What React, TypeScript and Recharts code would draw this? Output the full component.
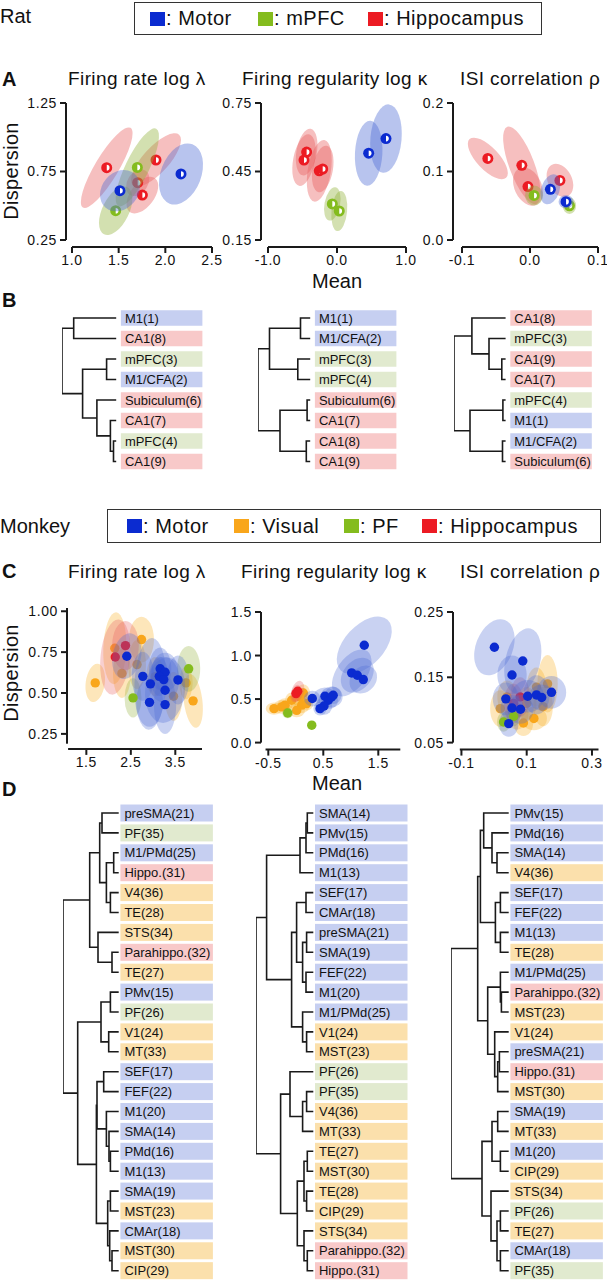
import React from "react"
import { ScatterChart, Scatter, XAxis, YAxis } from "recharts"

type Group = "motor" | "mpfc" | "pf" | "hippo" | "visual"
// [mean, dispersion, half-width (x units), half-height (y units), correlation]
type Ell = [number, number, number, number, number]

const FONT = "'Liberation Sans', Arial, Helvetica, sans-serif"
const INK = "#1a1a1a"

const DOT: Record<Group, string> = {
    motor: "#0b2bd0",
    mpfc: "#84bc1e",
    pf: "#84bc1e",
    hippo: "#ec1b23",
    visual: "#f9a61b",
}
const HALO: Record<Group, string> = {
    motor: "#4d6bd4",
    mpfc: "#91b139",
    pf: "#91b139",
    hippo: "#e86060",
    visual: "#f7ad1c",
}
const BOX: Record<Group, string> = {
    motor: "#c6cff1",
    mpfc: "#e1eacf",
    pf: "#e1eacf",
    hippo: "#f8c9c9",
    visual: "#fbe0ac",
}
const AREA_GROUP: Record<string, Group> = {
    "M1": "motor", "M1/CFA": "motor", "mPFC": "mpfc", "Subiculum": "hippo", "CA1": "hippo",
    "SMA": "motor", "PMv": "motor", "PMd": "motor", "SEF": "motor", "CMAr": "motor",
    "preSMA": "motor", "FEF": "motor", "M1/PMd": "motor",
    "MST": "visual", "V1": "visual", "TE": "visual", "CIP": "visual", "MT": "visual",
    "STS": "visual", "V4": "visual", "PF": "pf", "Hippo.": "hippo", "Parahippo.": "hippo",
}
const groupOf = (label: string) => AREA_GROUP[label.replace(/\(.*$/, "")]

// ---------- Rat (A) ----------
const ratRateMotor: Ell[] = [[1.514, 0.61, 0.214, 0.151, 0.2], [2.168, 0.732, 0.236, 0.223, 0.3]]
const ratRateMpfc: Ell[] = [[1.468, 0.464, 0.179, 0.177, 0.5], [1.70, 0.78, 0.232, 0.285, 0.8]]
const ratRateHippo: Ell[] = [
    [1.372, 0.778, 0.277, 0.294, 0.85], [1.90, 0.834, 0.268, 0.195, 0.75],
    [1.704, 0.668, 0.125, 0.097, 0.3], [1.754, 0.578, 0.17, 0.134, 0.5],
]
const ratRegMotor: Ell[] = [[0.459, 0.53, 0.2, 0.142, 0.1], [0.71, 0.594, 0.229, 0.15, 0.15]]
const ratRegMpfc: Ell[] = [[-0.068, 0.308, 0.12, 0.073, 0.3], [0.033, 0.277, 0.116, 0.088, 0.2]]
const ratRegHippo: Ell[] = [
    [-0.44, 0.535, 0.157, 0.102, 0.3], [-0.478, 0.50, 0.17, 0.113, 0.35],
    [-0.257, 0.453, 0.181, 0.135, 0.35], [-0.207, 0.461, 0.157, 0.102, 0.3],
]
const ratIsiMotor: Ell[] = [[0.030, 0.074, 0.0147, 0.0219, 0.3], [0.053, 0.056, 0.011, 0.0098, 0]]
const ratIsiMpfc: Ell[] = [[0.006, 0.065, 0.0132, 0.0146, 0], [0.058, 0.050, 0.0098, 0.012, 0]]
const ratIsiHippo: Ell[] = [
    [-0.062, 0.119, 0.0294, 0.0304, -0.7], [-0.012, 0.109, 0.0275, 0.0567, -0.7],
    [-0.003, 0.078, 0.022, 0.028, -0.3], [0.044, 0.087, 0.0196, 0.0243, -0.3],
]

// ---------- Monkey (C) ----------
const monkeyRateMotor: Ell[] = [
    [2.41, 0.725, 0.33, 0.14, 0.2], [2.77, 0.602, 0.25, 0.15, 0], [2.94, 0.556, 0.36, 0.28, 0.1],
    [3.16, 0.648, 0.25, 0.13, 0], [3.27, 0.627, 0.3, 0.12, 0], [3.14, 0.602, 0.2, 0.12, 0],
    [3.24, 0.582, 0.35, 0.14, 0], [3.27, 0.517, 0.45, 0.2, 0.1], [3.56, 0.58, 0.25, 0.15, 0],
    [2.92, 0.443, 0.3, 0.15, 0], [3.27, 0.429, 0.25, 0.18, 0],
]
const monkeyRateVisual: Ell[] = [
    [1.70, 0.562, 0.22, 0.117, 0.2], [2.14, 0.774, 0.26, 0.22, 0.1], [2.74, 0.827, 0.28, 0.14, 0],
    [2.64, 0.674, 0.2, 0.15, 0], [3.90, 0.452, 0.22, 0.165, -0.3], [3.74, 0.562, 0.15, 0.10, 0],
    [3.46, 0.48, 0.2, 0.15, 0], [3.05, 0.60, 0.2, 0.12, 0], [2.30, 0.62, 0.2, 0.15, 0],
]
const monkeyRatePf: Ell[] = [[2.55, 0.47, 0.19, 0.12, 0], [3.80, 0.648, 0.26, 0.14, 0]]
const monkeyRateHippo: Ell[] = [[2.38, 0.79, 0.3, 0.15, 0], [2.15, 0.72, 0.34, 0.23, 0.2]]

const monkeyRegMotor: Ell[] = [
    [1.245, 1.118, 0.5, 0.33, 0.5], [1.016, 0.80, 0.36, 0.27, 0.5], [1.118, 0.774, 0.3, 0.2, 0.3],
    [1.227, 0.724, 0.25, 0.16, 0.2], [0.30, 0.506, 0.15, 0.09, 0], [0.53, 0.532, 0.2, 0.1, 0],
    [0.59, 0.486, 0.18, 0.1, 0], [0.65, 0.524, 0.2, 0.12, 0], [0.513, 0.42, 0.15, 0.1, 0],
    [0.44, 0.39, 0.12, 0.08, 0], [0.68, 0.544, 0.15, 0.1, 0],
]
const monkeyRegVisual: Ell[] = [
    [-0.396, 0.39, 0.15, 0.07, 0], [-0.257, 0.41, 0.15, 0.08, 0], [0.076, 0.524, 0.14, 0.1, 0.3],
    [0.107, 0.43, 0.15, 0.09, 0], [0.016, 0.37, 0.15, 0.08, 0], [-0.196, 0.43, 0.14, 0.08, 0],
    [-0.075, 0.486, 0.12, 0.09, 0], [0.198, 0.448, 0.12, 0.08, 0], [0.137, 0.57, 0.12, 0.1, 0],
]
const monkeyRegPf: Ell[] = [[-0.147, 0.34, 0.1, 0.06, 0], [0.29, 0.20, 0.06, 0.04, 0]]
const monkeyRegHippo: Ell[] = [[0.004, 0.563, 0.1, 0.1, 0.3], [0.035, 0.59, 0.12, 0.12, 0.3]]

const monkeyIsiMotor: Ell[] = [
    [0.001, 0.196, 0.062, 0.043, 0.3], [0.088, 0.175, 0.057, 0.05, 0.3], [0.055, 0.1535, 0.045, 0.03, 0],
    [0.036, 0.117, 0.04, 0.025, 0], [0.103, 0.121, 0.05, 0.025, 0], [0.130, 0.123, 0.04, 0.03, 0],
    [0.146, 0.119, 0.04, 0.02, 0], [0.176, 0.127, 0.045, 0.025, 0], [0.055, 0.103, 0.035, 0.02, 0],
    [0.081, 0.101, 0.04, 0.022, 0], [0.045, 0.079, 0.03, 0.02, 0],
]
const monkeyIsiVisual: Ell[] = [
    [0.164, 0.14, 0.031, 0.044, 0], [0.019, 0.102, 0.031, 0.028, 0], [0.122, 0.087, 0.04, 0.018, 0],
    [0.15, 0.105, 0.03, 0.03, 0], [0.07, 0.095, 0.035, 0.025, 0], [0.10, 0.11, 0.03, 0.025, 0],
    [0.04, 0.12, 0.03, 0.025, 0], [0.13, 0.135, 0.03, 0.03, 0], [0.09, 0.08, 0.03, 0.02, 0],
]
const monkeyIsiPf: Ell[] = [[0.029, 0.0815, 0.02, 0.015, 0], [0.06, 0.09, 0.02, 0.015, 0]]
const monkeyIsiHippo: Ell[] = [[0.06, 0.11, 0.03, 0.03, 0], [0.08, 0.12, 0.03, 0.03, 0]]

// ---------- Dendrograms: leaf order + merges [childA, childB, height] ----------
const ratRateLeaves = ["M1(1)", "CA1(8)", "mPFC(3)", "M1/CFA(2)", "Subiculum(6)", "CA1(7)", "mPFC(4)", "CA1(9)"]
const ratRateTree: [number, number, number][] = [
    [6, 7, 2.7], [5, 8, 5.8], [4, 9, 19.3], [2, 3, 9.6], [11, 10, 33.6], [0, 1, 42.5], [13, 12, 54.2],
]
const ratRegLeaves = ["M1(1)", "M1/CFA(2)", "mPFC(3)", "mPFC(4)", "Subiculum(6)", "CA1(7)", "CA1(8)", "CA1(9)"]
const ratRegTree: [number, number, number][] = [
    [0, 1, 9.7], [2, 3, 12.4], [8, 9, 40.7], [4, 5, 3.1], [6, 7, 3.9], [11, 12, 30.2], [10, 13, 52.2],
]
const ratIsiLeaves = ["CA1(8)", "mPFC(3)", "CA1(9)", "CA1(7)", "mPFC(4)", "M1(1)", "M1/CFA(2)", "Subiculum(6)"]
const ratIsiTree: [number, number, number][] = [
    [2, 3, 3.8], [1, 8, 16.6], [0, 9, 33.7], [4, 5, 2.7], [6, 7, 3.1], [11, 12, 35.6], [10, 13, 51.6],
]

const monkeyRateLeaves = [
    "preSMA(21)", "PF(35)", "M1/PMd(25)", "Hippo.(31)", "V4(36)", "TE(28)", "STS(34)", "Parahippo.(32)",
    "TE(27)", "PMv(15)", "PF(26)", "V1(24)", "MT(33)", "SEF(17)", "FEF(22)", "M1(20)", "SMA(14)",
    "PMd(16)", "M1(13)", "SMA(19)", "MST(23)", "CMAr(18)", "MST(30)", "CIP(29)",
]
const monkeyRateTree: [number, number, number][] = [
    [0, 1, 16.7], [2, 3, 5], [4, 5, 8.3], [25, 26, 12.3], [24, 27, 19], [7, 8, 6.7], [6, 29, 20.7],
    [28, 30, 29], [9, 10, 8.3], [11, 12, 10], [32, 33, 17.7], [13, 14, 15], [17, 18, 8.3], [16, 36, 9.7],
    [15, 37, 12.3], [35, 38, 21.7], [19, 20, 8.3], [22, 23, 6.7], [21, 41, 9], [40, 42, 11],
    [39, 43, 22.3], [34, 44, 41], [31, 45, 55.7],
]
const monkeyRegLeaves = [
    "SMA(14)", "PMv(15)", "PMd(16)", "M1(13)", "SEF(17)", "CMAr(18)", "preSMA(21)", "SMA(19)",
    "FEF(22)", "M1(20)", "M1/PMd(25)", "V1(24)", "MST(23)", "PF(26)", "PF(35)", "V4(36)", "MT(33)",
    "TE(27)", "MST(30)", "TE(28)", "CIP(29)", "STS(34)", "Parahippo.(32)", "Hippo.(31)",
]
const monkeyRegTree: [number, number, number][] = [
    [0, 1, 6], [24, 2, 7.3], [25, 3, 13.3], [4, 5, 7.3], [6, 7, 6.7], [8, 9, 7.3], [28, 29, 10.7],
    [27, 30, 16.7], [11, 12, 6.7], [10, 32, 10.7], [31, 33, 21.7], [26, 34, 46.7], [14, 15, 6.7],
    [36, 16, 10.7], [13, 37, 23.3], [17, 18, 6], [19, 20, 6.7], [39, 40, 9.3], [22, 23, 6],
    [21, 42, 9.3], [41, 43, 16], [38, 44, 32.7], [35, 45, 57.3],
]
const monkeyIsiLeaves = [
    "PMv(15)", "PMd(16)", "SMA(14)", "V4(36)", "SEF(17)", "FEF(22)", "M1(13)", "TE(28)",
    "M1/PMd(25)", "Parahippo.(32)", "MST(23)", "V1(24)", "preSMA(21)", "Hippo.(31)", "MST(30)",
    "SMA(19)", "MT(33)", "M1(20)", "CIP(29)", "STS(34)", "PF(26)", "TE(27)", "CMAr(18)", "PF(35)",
]
const monkeyIsiTree: [number, number, number][] = [
    [2, 3, 11.7], [1, 24, 16.7], [0, 25, 25], [4, 5, 8.3], [6, 7, 8.3], [27, 28, 13.3], [26, 29, 28.3],
    [9, 10, 7.3], [8, 31, 8.3], [12, 13, 9.3], [33, 14, 11], [11, 34, 14], [32, 35, 21], [30, 36, 31],
    [15, 16, 11], [17, 18, 8.3], [38, 39, 16.7], [20, 21, 8.3], [22, 23, 8.3], [41, 42, 11.7],
    [19, 43, 17.7], [40, 44, 26.7], [37, 45, 57.7],
]

// ---------- axis ticks ----------
const ratRateX = [1.0, 1.5, 2.0, 2.5]
const ratRateY = [0.25, 0.75, 1.25]
const ratRegX = [-1, 0, 1]
const ratRegY = [0.15, 0.45, 0.75]
const ratIsiX = [-0.1, 0, 0.1]
const ratIsiY = [0, 0.1, 0.2]
const monkeyRateX = [1.5, 2.5, 3.5]
const monkeyRateY = [0.25, 0.5, 0.75, 1.0]
const monkeyRegX = [-0.5, 0.5, 1.5]
const monkeyRegY = [0, 0.5, 1.0, 1.5]
const monkeyIsiX = [-0.1, 0.1, 0.3]
const monkeyIsiY = [0.05, 0.15, 0.25]

type AxisSpec = { domain: [number, number]; px: [number, number]; ticks: number[]; digits: number }
type Layer = { group: Group; data: Ell[]; kind: "halo" | "dot" }

// dispersion ellipse from half-extents + correlation, turned into pixel space
const ellipseShape = (fill: string, alpha: number, kx: number, ky: number) => (p: any) => {
    const e: Ell = p.payload.e
    const sx = e[2] * kx
    const sy = e[3] * ky
    const a = sx * sx
    const d = sy * sy
    const c = -e[4] * sx * sy
    const mid = (a + d) / 2
    const diff = Math.sqrt(((a - d) / 2) ** 2 + c * c)
    const rx = Math.sqrt(mid + diff)
    const ry = Math.sqrt(Math.max(mid - diff, 0))
    const ang = (0.5 * Math.atan2(2 * c, a - d) * 180) / Math.PI
    return (
        <ellipse cx={p.cx} cy={p.cy} rx={rx} ry={ry} fill={fill} fillOpacity={alpha}
            transform={`rotate(${ang} ${p.cx} ${p.cy})`} />
    )
}

const halfDot = (color: string) => (p: any) => (
    <g>
        <circle cx={p.cx} cy={p.cy} r={5.5} fill={color} />
        <path d={`M${p.cx},${p.cy - 2.8} A2.8,2.8 0 0 1 ${p.cx},${p.cy + 2.8} Z`} fill="#fff" />
    </g>
)
const solidDot = (color: string) => (p: any) => <circle cx={p.cx} cy={p.cy} r={4.7} fill={color} />

function ScatterPanel(props: {
    x: AxisSpec; y: AxisSpec; yAxisX: number; xAxisY: number; layers: Layer[]; half: boolean; alpha: number
}) {
    const { x, y, yAxisX, xAxisY, layers, half, alpha } = props
    const YW = 56, XH = 30, MT = 14, MR = 14
    const left = yAxisX - YW
    const top = y.px[1] - MT
    const width = x.px[1] + MR - left
    const height = xAxisY + XH - top
    const padLeft = x.px[0] - yAxisX
    const padBottom = xAxisY - y.px[0]
    const kx = (x.px[1] - x.px[0]) / (x.domain[1] - x.domain[0])
    const ky = (y.px[0] - y.px[1]) / (y.domain[1] - y.domain[0])
    const xLen = x.px[1] - yAxisX
    const yLen = xAxisY - y.px[1]
    const tick = { fill: "#111", fontSize: 14, fontFamily: FONT, letterSpacing: 0.6 }
    return (
        <div style={{ position: "absolute", left, top }}>
            <ScatterChart width={width} height={height} margin={{ top: MT, right: MR, left: 0, bottom: 0 }}>
                <XAxis type="number" dataKey="x" domain={x.domain} ticks={x.ticks} interval={0}
                    padding={{ left: padLeft, right: 0 }} height={XH} tickSize={6} tickMargin={2}
                    tickFormatter={(v: number) => v.toFixed(x.digits)} tick={tick}
                    axisLine={{ stroke: INK, strokeWidth: 2, strokeDasharray: `0 ${padLeft} ${xLen} 0` }}
                    tickLine={{ stroke: INK, strokeWidth: 2 }} />
                <YAxis type="number" dataKey="y" domain={y.domain} ticks={y.ticks} interval={0}
                    padding={{ top: 0, bottom: padBottom }} width={YW} tickSize={6} tickMargin={3}
                    tickFormatter={(v: number) => v.toFixed(y.digits)} tick={tick}
                    axisLine={{ stroke: INK, strokeWidth: 2, strokeDasharray: `${yLen - padBottom} ${padBottom}` }}
                    tickLine={{ stroke: INK, strokeWidth: 2 }} />
                {layers.map((l, i) => (
                    <Scatter key={i} data={l.data.map((e) => ({ x: e[0], y: e[1], e }))} isAnimationActive={false}
                        shape={l.kind === "halo" ? ellipseShape(HALO[l.group], alpha, kx, ky)
                            : half ? halfDot(DOT[l.group]) : solidDot(DOT[l.group])} />
                ))}
            </ScatterChart>
        </div>
    )
}

const noShape = () => <g />

function Dendrogram(props: {
    leaves: string[]; tree: [number, number, number][]; leafX: number; topY: number; step: number;
    boxW: number; boxH: number; gap: number
}) {
    const { leaves, tree, leafX, topY, step, boxW, boxH, gap } = props
    const n = leaves.length
    const nodes = leaves.map((_, i) => ({ h: 0, y: i }))
    tree.forEach(([a, b, h]) => nodes.push({ h, y: (nodes[a].y + nodes[b].y) / 2 }))
    const rootH = tree[tree.length - 1][2]
    const M = 12
    const right = gap + boxW + 6
    const leafShape = (p: any) => {
        const g = groupOf(p.payload.label)
        return (
            <g>
                <rect x={p.cx + gap} y={p.cy - boxH / 2} width={boxW} height={boxH} fill={BOX[g]} />
                <text x={p.cx + gap + 4} y={p.cy} dy="0.36em" fontSize={13} fontFamily={FONT} fill="#111">
                    {p.payload.label}
                </text>
            </g>
        )
    }
    return (
        <div style={{ position: "absolute", left: leafX - rootH, top: topY - M }}>
            <ScatterChart width={rootH + right} height={(n - 1) * step + 2 * M}
                margin={{ top: M, bottom: M, left: 0, right }}>
                <XAxis type="number" dataKey="x" domain={[0, rootH]} reversed hide />
                <YAxis type="number" dataKey="y" domain={[0, n - 1]} reversed hide />
                {tree.map(([a, b, h], i) => (
                    <Scatter key={i} isAnimationActive={false} shape={noShape}
                        line={{ stroke: INK, strokeWidth: 1.6 }}
                        data={[
                            { x: nodes[a].h, y: nodes[a].y }, { x: h, y: nodes[a].y },
                            { x: h, y: nodes[b].y }, { x: nodes[b].h, y: nodes[b].y },
                        ]} />
                ))}
                <Scatter isAnimationActive={false} shape={leafShape}
                    data={leaves.map((label, i) => ({ x: 0, y: i, label }))} />
            </ScatterChart>
        </div>
    )
}

const Txt = (p: { x: number; base: number; size: number; bold?: boolean; center?: boolean; ls?: number; children: React.ReactNode }) => (
    <div style={{
        position: "absolute", left: p.x, top: p.base - p.size * 0.85, fontSize: p.size, lineHeight: `${p.size}px`,
        fontWeight: p.bold ? 700 : 400, whiteSpace: "nowrap", letterSpacing: p.ls ?? 0,
        transform: p.center ? "translateX(-50%)" : undefined,
    }}>{p.children}</div>
)

const VTxt = (p: { x: number; y: number; size: number; children: React.ReactNode }) => (
    <div style={{
        position: "absolute", left: p.x, top: p.y, fontSize: p.size, lineHeight: `${p.size}px`, whiteSpace: "nowrap",
        letterSpacing: 0.3, transform: "translate(-50%, -50%) rotate(-90deg)",
    }}>{p.children}</div>
)

const LegendBox = (p: { left: number; top: number; w: number; h: number; items: [Group, string, number][] }) => (
    <div style={{ position: "absolute", left: p.left, top: p.top, width: p.w, height: p.h, border: "1px solid #333", boxSizing: "border-box" }}>
        {p.items.map(([g, label, x]) => (
            <div key={label} style={{ position: "absolute", left: x - p.left, top: 0, height: p.h - 2, display: "flex", alignItems: "center" }}>
                <span style={{ width: 15, height: 14, background: DOT[g], display: "inline-block", marginRight: 1 }} />
                <span style={{ fontSize: 20, letterSpacing: 0.5 }}>: {label}</span>
            </div>
        ))}
    </div>
)

const ratOrder = (m: Ell[], p: Ell[], h: Ell[]): Layer[] => [
    { group: "hippo", data: h, kind: "halo" }, { group: "hippo", data: h, kind: "dot" },
    { group: "mpfc", data: p, kind: "halo" }, { group: "mpfc", data: p, kind: "dot" },
    { group: "motor", data: m, kind: "halo" }, { group: "motor", data: m, kind: "dot" },
]
const monkeyOrder = (m: Ell[], v: Ell[], p: Ell[], h: Ell[]): Layer[] => [
    { group: "visual", data: v, kind: "halo" }, { group: "visual", data: v, kind: "dot" },
    { group: "hippo", data: h, kind: "halo" }, { group: "hippo", data: h, kind: "dot" },
    { group: "pf", data: p, kind: "halo" }, { group: "motor", data: m, kind: "halo" },
    { group: "pf", data: p, kind: "dot" }, { group: "motor", data: m, kind: "dot" },
]

export default function App() {
    const rowA: [number, number] = [240, 103]
    const rowC: [number, number] = [742.3, 611.7]
    return (
        <div style={{ position: "absolute", left: 0, top: 0, width: 607, height: 1280, background: "#fff", fontFamily: FONT, color: "#111", overflow: "hidden" }}>
            <Txt x={0} base={23} size={20}>Rat</Txt>
            <LegendBox left={134} top={2} w={408} h={33}
                items={[["motor", "Motor", 149], ["mpfc", "mPFC", 257], ["hippo", "Hippocampus", 367]]} />

            <Txt x={2} base={86} size={20} bold>A</Txt>
            <Txt x={68} base={85} size={19} ls={0.4}>Firing rate log λ</Txt>
            <Txt x={242} base={85} size={19} ls={0.4}>Firing regularity log κ</Txt>
            <Txt x={460} base={85} size={19} ls={0.4}>ISI correlation ρ</Txt>
            <VTxt x={11} y={171} size={20}>Dispersion</VTxt>
            <Txt x={337} base={288} size={20} center>Mean</Txt>

            <ScatterPanel half alpha={0.4} yAxisX={66} xAxisY={247}
                x={{ domain: [1, 2.5], px: [72, 212], ticks: ratRateX, digits: 1 }}
                y={{ domain: [0.25, 1.25], px: rowA, ticks: ratRateY, digits: 2 }}
                layers={ratOrder(ratRateMotor, ratRateMpfc, ratRateHippo)} />
            <ScatterPanel half alpha={0.4} yAxisX={261} xAxisY={247}
                x={{ domain: [-1, 1], px: [268, 406], ticks: ratRegX, digits: 1 }}
                y={{ domain: [0.15, 0.75], px: rowA, ticks: ratRegY, digits: 2 }}
                layers={ratOrder(ratRegMotor, ratRegMpfc, ratRegHippo)} />
            <ScatterPanel half alpha={0.4} yAxisX={453} xAxisY={247}
                x={{ domain: [-0.1, 0.1], px: [462, 598], ticks: ratIsiX, digits: 1 }}
                y={{ domain: [0, 0.2], px: rowA, ticks: ratIsiY, digits: 1 }}
                layers={ratOrder(ratIsiMotor, ratIsiMpfc, ratIsiHippo)} />

            <Txt x={2} base={307} size={20} bold>B</Txt>
            <Dendrogram leaves={ratRateLeaves} tree={ratRateTree} leafX={116.1} topY={318.3} step={20.5} boxW={81.5} boxH={15.5} gap={4.7} />
            <Dendrogram leaves={ratRegLeaves} tree={ratRegTree} leafX={309.7} topY={318.3} step={20.5} boxW={81.5} boxH={15.5} gap={4.7} />
            <Dendrogram leaves={ratIsiLeaves} tree={ratIsiTree} leafX={505.2} topY={318.3} step={20.5} boxW={81.5} boxH={15.5} gap={4.7} />

            <Txt x={0} base={533} size={20}>Monkey</Txt>
            <LegendBox left={107} top={509} w={494} h={34}
                items={[["motor", "Motor", 126], ["visual", "Visual", 233], ["pf", "PF", 343], ["hippo", "Hippocampus", 421]]} />

            <Txt x={2} base={578} size={20} bold>C</Txt>
            <Txt x={68} base={578} size={19} ls={0.4}>Firing rate log λ</Txt>
            <Txt x={241} base={578} size={19} ls={0.4}>Firing regularity log κ</Txt>
            <Txt x={460} base={578} size={19} ls={0.4}>ISI correlation ρ</Txt>
            <VTxt x={11} y={673} size={20}>Dispersion</VTxt>
            <Txt x={337} base={790} size={20} center>Mean</Txt>

            <ScatterPanel half={false} alpha={0.3} yAxisX={66.7} xAxisY={749.3}
                x={{ domain: [1.09, 4.1], px: [67.8, 201.7], ticks: monkeyRateX, digits: 1 }}
                y={{ domain: [0.19, 1.02], px: [744.1, 608.4], ticks: monkeyRateY, digits: 2 }}
                layers={monkeyOrder(monkeyRateMotor, monkeyRateVisual, monkeyRatePf, monkeyRateHippo)} />
            <ScatterPanel half={false} alpha={0.3} yAxisX={261} xAxisY={749.3}
                x={{ domain: [-0.55, 1.9], px: [265.55, 400.3], ticks: monkeyRegX, digits: 1 }}
                y={{ domain: [0, 1.5], px: rowC, ticks: monkeyRegY, digits: 1 }}
                layers={monkeyOrder(monkeyRegMotor, monkeyRegVisual, monkeyRegPf, monkeyRegHippo)} />
            <ScatterPanel half={false} alpha={0.3} yAxisX={453.3} xAxisY={749.3}
                x={{ domain: [-0.105, 0.32], px: [460.1, 598.8], ticks: monkeyIsiX, digits: 1 }}
                y={{ domain: [0.05, 0.25], px: rowC, ticks: monkeyIsiY, digits: 2 }}
                layers={monkeyOrder(monkeyIsiMotor, monkeyIsiVisual, monkeyIsiPf, monkeyIsiHippo)} />

            <Txt x={2} base={796} size={20} bold>D</Txt>
            <Dendrogram leaves={monkeyRateLeaves} tree={monkeyRateTree} leafX={118.3} topY={813.3} step={19.9} boxW={92.5} boxH={17} gap={1.7} />
            <Dendrogram leaves={monkeyRegLeaves} tree={monkeyRegTree} leafX={313.3} topY={813.3} step={19.9} boxW={92.5} boxH={17} gap={1.7} />
            <Dendrogram leaves={monkeyIsiLeaves} tree={monkeyIsiTree} leafX={508.3} topY={813.3} step={19.9} boxW={92.5} boxH={17} gap={1.7} />
        </div>
    )
}
